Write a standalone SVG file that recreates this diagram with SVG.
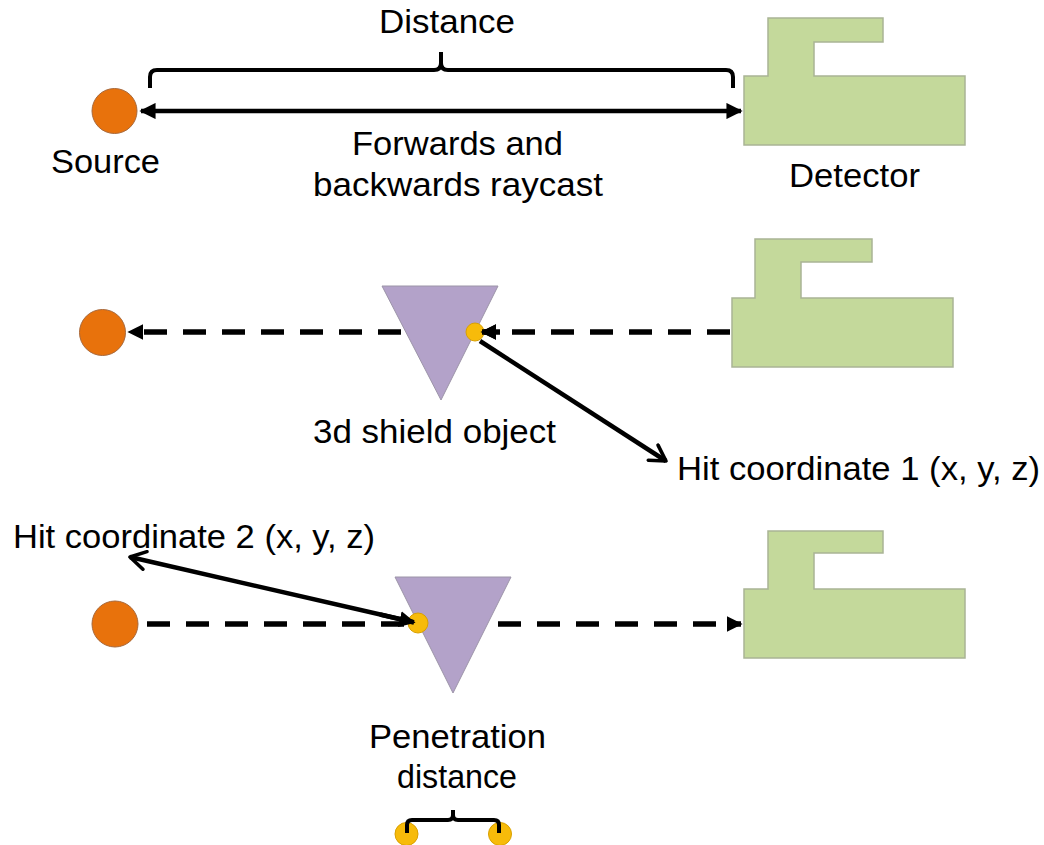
<svg xmlns="http://www.w3.org/2000/svg" width="1044" height="845" viewBox="0 0 1044 845">
<style>
text{font-family:"Liberation Sans",Arial,sans-serif;font-size:32.5px;fill:#000}
.src{fill:#E8720C;stroke:#A8683A;stroke-width:1}
.det{fill:#C4D99B;stroke:#A9B495;stroke-width:1.5}
.tri{fill:#B3A2C9;stroke:#9C94A8;stroke-width:1}
.hit{fill:#F7BB0A;stroke:#D9A000;stroke-width:1}
.solid{stroke:#000;stroke-width:4.5;fill:none}
.dash{stroke:#000;stroke-width:5.5;fill:none;stroke-dasharray:23 16}
.brace{stroke:#000;stroke-width:4;fill:none;stroke-linejoin:round}
</style>
<defs>
<marker id="fa" viewBox="0 0 10 10" refX="9" refY="5" markerWidth="3.6" markerHeight="3.6" markerUnits="strokeWidth" orient="auto-start-reverse">
<path d="M0,0 L10,5 L0,10 Z" fill="#000"/>
</marker>
<marker id="fa2" viewBox="0 0 10 10" refX="9" refY="5" markerWidth="2.9" markerHeight="2.9" markerUnits="strokeWidth" orient="auto-start-reverse">
<path d="M0,0 L10,5 L0,10 Z" fill="#000"/>
</marker>
<marker id="oa" viewBox="0 0 12 12" refX="10" refY="6" markerWidth="4.8" markerHeight="4.8" markerUnits="strokeWidth" orient="auto">
<path d="M1.5,1 L10,6 L1.5,11" fill="none" stroke="#000" stroke-width="2" stroke-linecap="round" stroke-linejoin="round"/>
</marker>
</defs>

<g id="connectors">
<line class="solid" x1="141" y1="111" x2="741" y2="111" marker-start="url(#fa)" marker-end="url(#fa)"/>
<path class="brace" d="M150,88 V77 Q150,70 157,70 H434 Q441,70 441,63 V52 M441,63 Q441,70 448,70 H726 Q733,70 733,77 V88"/>
<line class="dash" x1="440" y1="332" x2="129" y2="332" marker-end="url(#fa2)"/>
<line class="dash" x1="730" y1="332" x2="482" y2="332" marker-end="url(#fa2)"/>
<line class="dash" x1="147" y1="624" x2="741" y2="624" marker-end="url(#fa2)"/>
</g>

<g id="source1"><circle class="src" cx="114.5" cy="111" r="22.5"/><text x="51" y="173" textLength="109" lengthAdjust="spacingAndGlyphs">Source</text></g>
<g id="detector1"><path class="det" d="M768,18 H883 V42 H814 V76 H965 V145 H744 V76 H768 Z"/><text x="789" y="187" textLength="131" lengthAdjust="spacingAndGlyphs">Detector</text></g>
<g id="label-distance"><text x="379" y="33" textLength="136" lengthAdjust="spacingAndGlyphs">Distance</text></g>
<g id="label-raycast"><text x="352" y="155" textLength="211" lengthAdjust="spacingAndGlyphs">Forwards and</text><text x="313" y="196" textLength="290" lengthAdjust="spacingAndGlyphs">backwards raycast</text></g>

<g id="source2"><circle class="src" cx="102.5" cy="332.5" r="23"/></g>
<g id="detector2"><path class="det" d="M755,239 H872 V262 H801 V298 H953 V367 H732 V298 H755 Z"/></g>
<g id="shield1"><polygon class="tri" points="382,286 498,286 441,400"/><text x="313" y="443" textLength="243" lengthAdjust="spacingAndGlyphs">3d shield object</text></g>
<g id="hit1"><circle class="hit" cx="475" cy="332" r="9"/></g>
<g id="hit1-arrows"><line class="dash" x1="500" y1="332" x2="482" y2="332" stroke-dasharray="none" marker-end="url(#fa2)"/>
<line class="solid" x1="480" y1="341" x2="666" y2="461" marker-end="url(#oa)"/></g>
<g id="label-hit1"><text x="677" y="480" textLength="363" lengthAdjust="spacingAndGlyphs">Hit coordinate 1 (x, y, z)</text></g>

<g id="label-hit2"><text x="13" y="548" textLength="362" lengthAdjust="spacingAndGlyphs">Hit coordinate 2 (x, y, z)</text></g>
<g id="source3"><circle class="src" cx="115" cy="624" r="23"/></g>
<g id="detector3"><path class="det" d="M768,531 H883 V553 H814 V589 H965 V658 H744 V589 H768 Z"/></g>
<g id="shield2"><polygon class="tri" points="395,577 511,577 453,693"/></g>
<g id="hit2"><circle class="hit" cx="418" cy="623" r="10"/></g>
<g id="hit2-arrow"><line class="solid" x1="413" y1="622" x2="130" y2="557" marker-end="url(#oa)"/>
<line class="solid" x1="380" y1="614.5" x2="414" y2="622.5" marker-end="url(#fa)"/></g>

<g id="penetration">
<text x="369" y="748" textLength="177" lengthAdjust="spacingAndGlyphs">Penetration</text>
<text x="397" y="788" textLength="120" lengthAdjust="spacingAndGlyphs">distance</text>
<circle class="hit" cx="406.5" cy="834" r="11.5"/>
<circle class="hit" cx="500" cy="834" r="11.5"/>
<path class="brace" d="M407,833 V825 Q407,820 412,820 H448 Q453,820 453,815 V810 M453,815 Q453,820 458,820 H494 Q499,820 499,825 V833"/>
</g>
</svg>
